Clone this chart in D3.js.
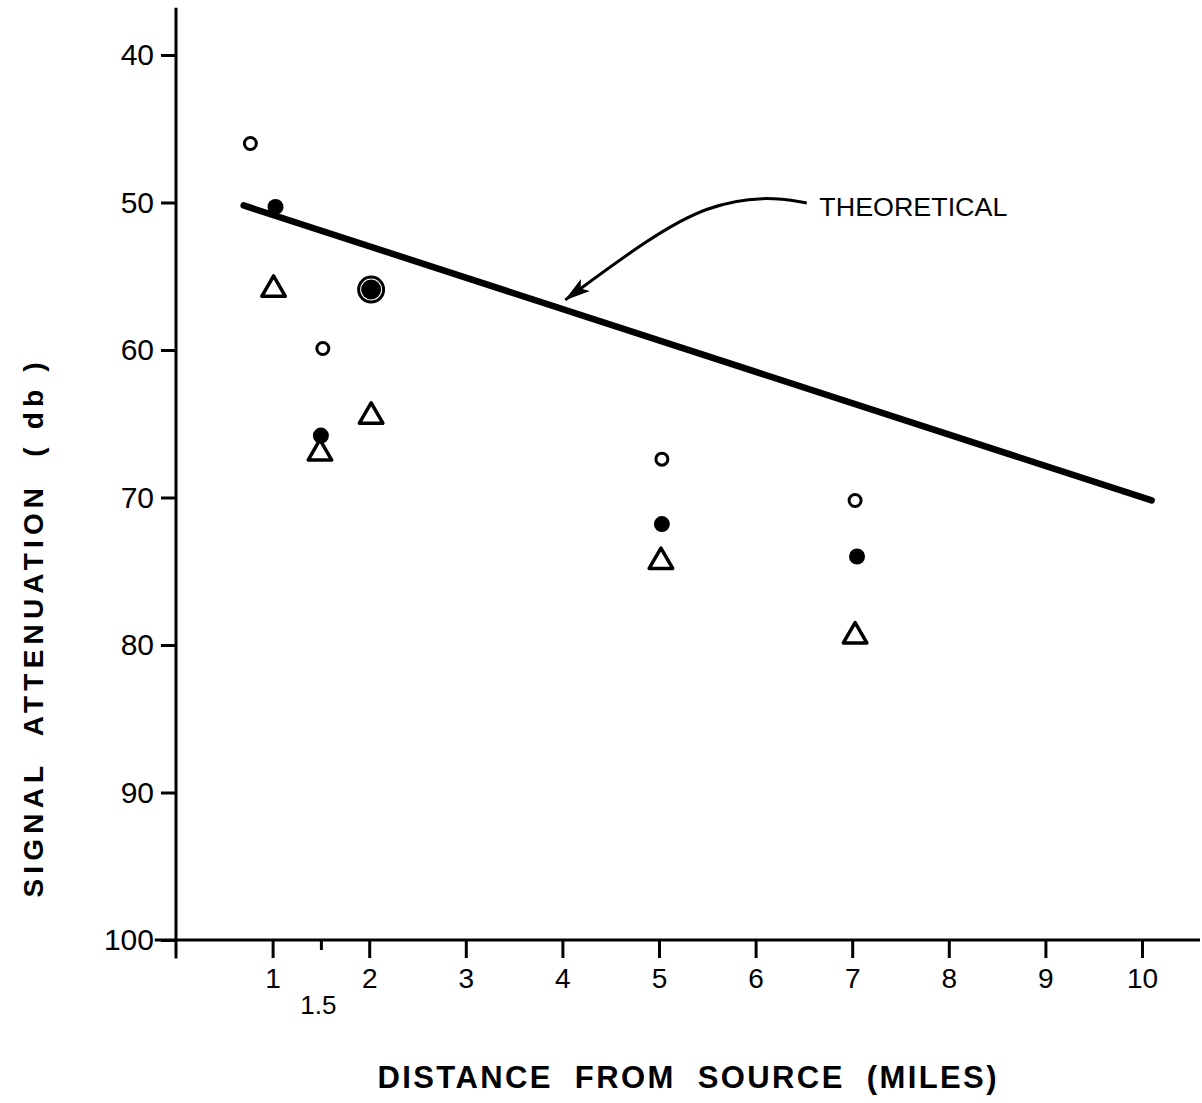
<!DOCTYPE html>
<html>
<head>
    <script src="https://d3js.org/d3.v7.min.js"></script>
    <style>
        body { margin: 0; background: #fff; }
        svg text { font-family: "Liberation Sans", Arial, sans-serif; fill: #000; }
        .tick line, .domain { stroke: #000; }
    </style>
</head>
<body>
<script>
    // axis ticks
    var xTicks = [1, 2, 3, 4, 5, 6, 7, 8, 9, 10];
    var xMinorTicks = [1.5];
    var yTicks = [40, 50, 60, 70, 80, 90, 100];

    // measured points, distance (miles) / attenuation (db)
    var openCircleX = [0.77, 1.52, 2.02, 5.03, 7.03];
    var openCircleY = [46.0, 59.9, 55.9, 67.4, 70.2];
    var filledCircleX = [1.03, 1.5, 2.02, 5.03, 7.05];
    var filledCircleY = [50.3, 65.8, 55.9, 71.8, 74.0];
    var triangleX = [1.01, 2.02, 1.49, 5.02, 7.03];
    var triangleY = [55.9, 64.5, 67.0, 74.35, 79.4];

    // theoretical line
    var theoreticalX = [0.7, 10.1];
    var theoreticalY = [50.2, 70.2];

    // annotation arrow path (data units)
    var arrowX = [6.53, 6.1, 5.5, 4.9, 4.03];
    var arrowY = [50.03, 49.55, 50.2, 52.4, 56.6];

    var svg = d3.select("body").append("svg")
        .attr("width", 1202)
        .attr("height", 1103);

    var x = d3.scaleLinear().domain([0, 10]).range([176, 1142]);
    var y = d3.scaleLinear().domain([40, 100]).range([55, 940]);

    function zip(xs, ys) {
        return xs.map(function(v, i) { return [v, ys[i]]; });
    }

    // y axis
    var yAxis = svg.append("g")
        .attr("transform", "translate(" + x(0) + ",0)")
        .call(d3.axisLeft(y).tickValues(yTicks).tickSize(15).tickPadding(7).tickSizeOuter(0));
    yAxis.select(".domain").remove();
    yAxis.selectAll(".tick line").attr("stroke-width", 3);
    yAxis.selectAll(".tick text").style("font-size", "30px");
    svg.append("line")
        .attr("x1", x(0)).attr("x2", x(0))
        .attr("y1", y(36.8)).attr("y2", y(101.25))
        .attr("stroke", "#000").attr("stroke-width", 3);

    // x axis
    var xAxis = svg.append("g")
        .attr("transform", "translate(0," + y(100) + ")")
        .call(d3.axisBottom(x).tickValues(xTicks).tickSize(18).tickPadding(10).tickSizeOuter(0));
    xAxis.select(".domain").remove();
    xAxis.selectAll(".tick line").attr("stroke-width", 3);
    xAxis.selectAll(".tick text").style("font-size", "28px");

    var xMinor = svg.append("g")
        .attr("transform", "translate(0," + y(100) + ")")
        .call(d3.axisBottom(x).tickValues(xMinorTicks).tickSize(10).tickPadding(46).tickSizeOuter(0)
            .tickFormat(d3.format(".1f")));
    xMinor.select(".domain").remove();
    xMinor.selectAll(".tick line").attr("stroke-width", 3);
    xMinor.selectAll(".tick text").style("font-size", "26px").attr("dx", "-3");

    svg.append("line")
        .attr("x1", x(-0.22)).attr("x2", x(10.6))
        .attr("y1", y(100)).attr("y2", y(100))
        .attr("stroke", "#000").attr("stroke-width", 3);

    // theoretical line
    svg.append("path")
        .datum(zip(theoreticalX, theoreticalY))
        .attr("d", d3.line().x(function(d) { return x(d[0]); }).y(function(d) { return y(d[1]); }))
        .attr("fill", "none")
        .attr("stroke", "#000")
        .attr("stroke-width", 6.5)
        .attr("stroke-linecap", "round");

    // annotation
    svg.append("defs").append("marker")
        .attr("id", "arrow")
        .attr("viewBox", "0 0 26 16")
        .attr("refX", 25).attr("refY", 8)
        .attr("markerWidth", 26).attr("markerHeight", 16)
        .attr("markerUnits", "userSpaceOnUse")
        .attr("orient", "auto")
        .append("path")
        .attr("d", "M0,0.5 L26,8 L0,15.5 L6,8 Z")
        .attr("fill", "#000");

    svg.append("path")
        .datum(zip(arrowX, arrowY))
        .attr("d", d3.line().curve(d3.curveBasis)
            .x(function(d) { return x(d[0]); }).y(function(d) { return y(d[1]); }))
        .attr("fill", "none")
        .attr("stroke", "#000")
        .attr("stroke-width", 3)
        .attr("marker-end", "url(#arrow)");

    svg.append("text")
        .attr("x", x(6.66))
        .attr("y", y(50.3))
        .attr("dy", "0.35em")
        .attr("textLength", 188)
        .attr("lengthAdjust", "spacingAndGlyphs")
        .style("font-size", "26px")
        .text("THEORETICAL");

    // markers
    function coincident(px, py) {
        return filledCircleX.some(function(v, i) {
            return Math.abs(v - px) < 0.05 && Math.abs(filledCircleY[i] - py) < 0.3;
        });
    }

    var opens = zip(openCircleX, openCircleY);
    var filled = zip(filledCircleX, filledCircleY);
    var tris = zip(triangleX, triangleY);

    svg.append("g").selectAll("circle")
        .data(opens.filter(function(d) { return coincident(d[0], d[1]); }))
        .enter().append("circle")
        .attr("cx", function(d) { return x(d[0]); })
        .attr("cy", function(d) { return y(d[1]); })
        .attr("r", 12.5)
        .attr("fill", "#fff")
        .attr("stroke", "#000")
        .attr("stroke-width", 3);

    svg.append("g").selectAll("circle")
        .data(filled)
        .enter().append("circle")
        .attr("cx", function(d) { return x(d[0]); })
        .attr("cy", function(d) { return y(d[1]); })
        .attr("r", function(d) {
            return opens.some(function(o) { return coincident(o[0], o[1]) && Math.abs(o[0] - d[0]) < 0.05; }) ? 10 : 8;
        })
        .attr("fill", "#000");

    svg.append("g").selectAll("circle")
        .data(opens.filter(function(d) { return !coincident(d[0], d[1]); }))
        .enter().append("circle")
        .attr("cx", function(d) { return x(d[0]); })
        .attr("cy", function(d) { return y(d[1]); })
        .attr("r", 6)
        .attr("fill", "#fff")
        .attr("stroke", "#000")
        .attr("stroke-width", 3);

    svg.append("g").selectAll("path")
        .data(tris)
        .enter().append("path")
        .attr("transform", function(d) { return "translate(" + x(d[0]) + "," + y(d[1]) + ")"; })
        .attr("d", d3.symbol().type(d3.symbolTriangle).size(240))
        .attr("fill", "#fff")
        .attr("stroke", "#000")
        .attr("stroke-width", 3.5)
        .attr("stroke-linejoin", "round");

    // axis titles
    svg.append("text")
        .attr("x", 687)
        .attr("y", 1077)
        .attr("dy", "0.35em")
        .attr("text-anchor", "middle")
        .attr("textLength", 619)
        .attr("lengthAdjust", "spacing")
        .style("white-space", "pre")
        .style("font-size", "31px")
        .style("font-weight", "bold")
        .text("DISTANCE  FROM  SOURCE  (MILES)");

    svg.append("text")
        .attr("transform", "translate(33,630) rotate(-90)")
        .attr("dy", "0.35em")
        .attr("text-anchor", "middle")
        .attr("textLength", 535)
        .attr("lengthAdjust", "spacing")
        .style("white-space", "pre")
        .style("font-size", "28px")
        .style("font-weight", "bold")
        .text("SIGNAL  ATTENUATION  ( db )");
</script>
</body>
</html>
